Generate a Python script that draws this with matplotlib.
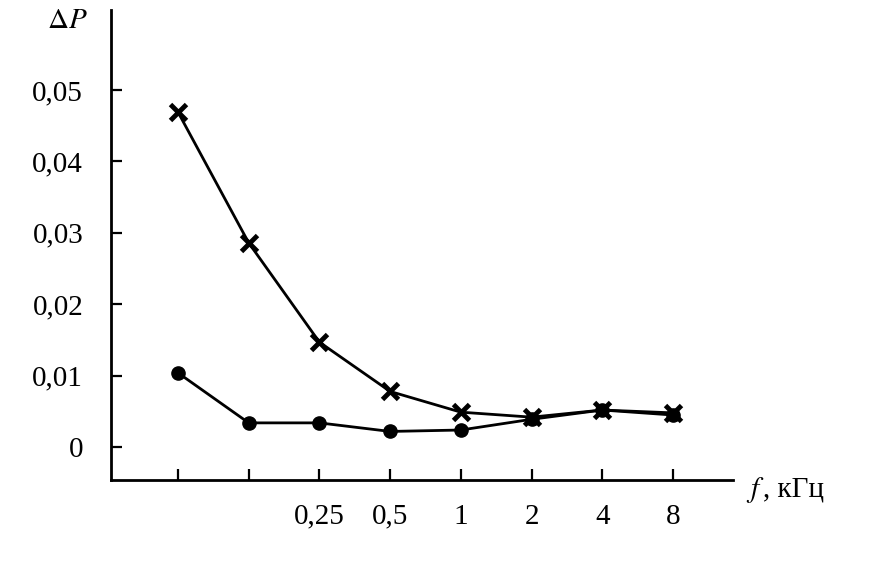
import numpy as np
import matplotlib
matplotlib.use("Agg")
import matplotlib.pyplot as plt

plt.rcParams["font.family"] = ["Liberation Serif", "DejaVu Serif"]
plt.rcParams["mathtext.fontset"] = "stix"

# frequency positions (first two are unlabelled in the original)
freq_labels = ["", "", "0,25", "0,5", "1", "2", "4", "8"]
# crosses (upper curve) and dots (lower curve)
dp_cross = [0.0469, 0.0286, 0.0147, 0.0078, 0.0049, 0.0042, 0.0052, 0.0048]
dp_dot = [0.0104, 0.0034, 0.0034, 0.0022, 0.0024, 0.0039, 0.0052, 0.0045]
y_ticks = [0, 0.01, 0.02, 0.03, 0.04, 0.05]
y_tick_labels = ["0", "0,01", "0,02", "0,03", "0,04", "0,05"]

fs = 21
x = np.arange(1, len(freq_labels) + 1)

fig = plt.figure(figsize=(8.81, 5.67), dpi=100)
ax = fig.add_axes([0.126, 0.1534, 0.706, 0.829])

ax.plot(x, dp_dot, color="black", lw=2, marker="o", ms=9.5)
ax.plot(x, dp_cross, color="black", lw=2, marker="x", ms=12, mew=3.5)

ax.set_xlim(0.052, 8.85)
ax.set_ylim(-0.0046, 0.0612)
ax.set_xticks(x)
ax.set_xticklabels(freq_labels)
ax.set_yticks(y_ticks)
ax.set_yticklabels(y_tick_labels)

for s in ("top", "right"):
    ax.spines[s].set_visible(False)
for s in ("left", "bottom"):
    ax.spines[s].set_linewidth(2)

ax.tick_params(axis="both", direction="in", length=8, width=1.6, labelsize=fs)
ax.tick_params(axis="y", pad=20)
ax.tick_params(axis="x", pad=17)

# axis captions
fig.text(47 / 881, 1 - 28 / 567, r"$\Delta P$", fontsize=fs, ha="left", va="baseline")
fig.text(746 / 881, 1 - 497 / 567, r"$f$", fontsize=fs, ha="left", va="baseline")
fig.text(763 / 881, 1 - 497 / 567, ", кГц", fontsize=fs, ha="left", va="baseline")

fig.savefig("out.png", dpi=100)
